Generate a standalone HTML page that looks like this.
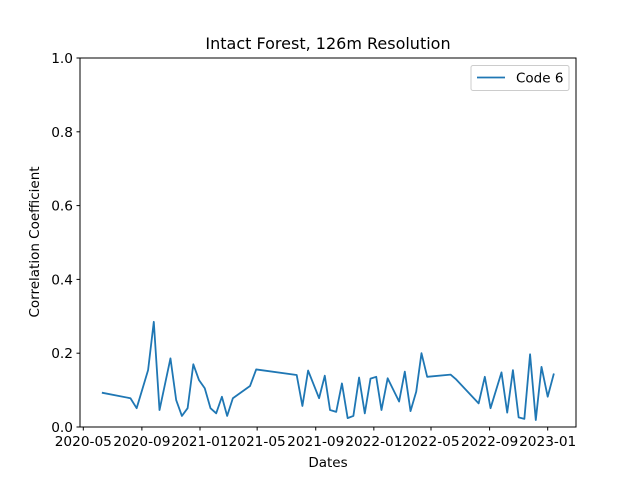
<!DOCTYPE html>
<html><head><meta charset="utf-8"><style>
body{margin:0;background:#fff}
svg text{font-family:"DejaVu Sans","Liberation Sans",sans-serif;fill:#000}
</style></head><body>
<svg width="640" height="480" id="c">
<rect width="640" height="480" fill="#fff"/>
<text x="328" y="49" font-size="16" text-anchor="middle">Intact Forest, 126m Resolution</text>
<text x="328" y="467" font-size="13.5" text-anchor="middle">Dates</text>
<text transform="translate(39,242) rotate(-90)" font-size="13.5" text-anchor="middle">Correlation Coefficient</text>
<g id="ax"></g>
<rect x="80" y="58" width="496" height="369" fill="none" stroke="#000" stroke-width="1"/>
<g>
<rect x="471" y="65.5" width="98" height="25" rx="2" fill="#fff" stroke="#ccc"/>
<line x1="477" y1="77.5" x2="505" y2="77.5" stroke="#1f77b4" stroke-width="1.8"/>
<text x="516" y="82.5" font-size="13.5">Code 6</text>
</g>
</svg>
<script>
const days=[39,99,112,136,148,160,183,195,207,219,231,243,255,267,279,291,302,314,350,363,448,460,472,495,507,518,531,543,555,567,579,591,603,615,626,639,663,675,687,699,710,722,771,782,830,843,855,878,890,902,914,926,938,950,962,975,988];
const values=[0.093,0.078,0.051,0.154,0.285,0.046,0.186,0.073,0.030,0.051,0.170,0.127,0.105,0.051,0.037,0.082,0.030,0.078,0.111,0.156,0.141,0.057,0.153,0.078,0.139,0.046,0.041,0.118,0.024,0.030,0.134,0.037,0.131,0.136,0.046,0.132,0.069,0.150,0.043,0.096,0.200,0.136,0.142,0.130,0.064,0.136,0.051,0.148,0.039,0.154,0.026,0.022,0.197,0.019,0.163,0.082,0.145];
const xTickDays=[0,123,245,365,488,610,730,853,975];
const xTickLabels=["2020-05","2020-09","2021-01","2021-05","2021-09","2022-01","2022-05","2022-09","2023-01"];
const yTicks=[0,0.2,0.4,0.6,0.8,1.0];
const yTickLabels=["0.0","0.2","0.4","0.6","0.8","1.0"];
const X=d=>83.3+d*0.4763;
const Y=v=>427-v*369;
const ns="http://www.w3.org/2000/svg";
const ax=document.getElementById('ax');
function mk(t,a){const e=document.createElementNS(ns,t);for(const k in a)e.setAttribute(k,a[k]);ax.appendChild(e);return e;}
xTickDays.forEach((d,i)=>{
  const l=mk('line',{x1:X(d),x2:X(d),y1:427,y2:430.5,stroke:'#000'});
  
  
  const t=mk('text',{x:X(d),y:446,'font-size':13.7,'text-anchor':'middle'});
  t.textContent=xTickLabels[i];
  
  
});
yTicks.forEach((v,i)=>{
  const l=mk('line',{x1:76.5,x2:80,y1:Y(v),y2:Y(v),stroke:'#000'});
  
  
  const t=mk('text',{x:73,y:Y(v)+5,'font-size':13.7,'text-anchor':'end'});
  t.textContent=yTickLabels[i];
  
  
});
const p=mk('polyline',{points:days.map((d,i)=>X(d)+','+Y(values[i])).join(' '),fill:'none',stroke:'#1f77b4','stroke-width':1.8,'stroke-linejoin':'round'});


</script>
</body></html>
